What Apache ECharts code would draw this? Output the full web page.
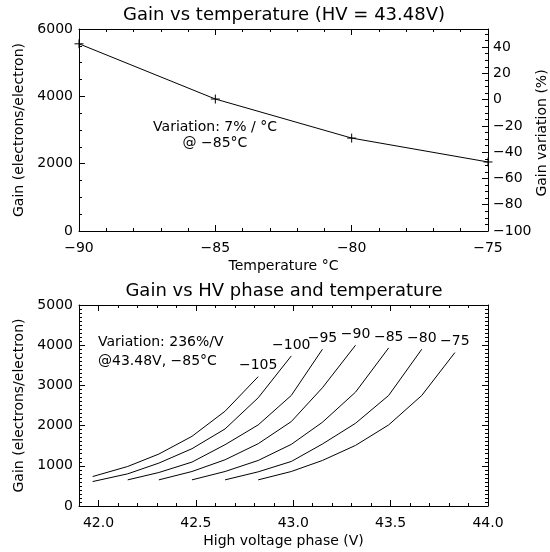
<!DOCTYPE html>
<html><head><meta charset="utf-8">
<script src="https://cdn.jsdelivr.net/npm/echarts@6/dist/echarts.min.js"></script>
<style>html,body{margin:0;padding:0;background:#fff}#c{width:550px;height:552px}</style>
</head><body><div id="c"></div>
<script>
// ---- Top panel data: gain vs temperature ----
var temps = [-90, -85, -80, -75];
var gainVsTemp = [5560, 3920, 2760, 2050];
var refGain = 3900; // gain at -85 C used for the % axis

// ---- Bottom panel data: gain vs HV for each temperature ----
var hvGrid = [41.97, 42.15, 42.31, 42.48, 42.65, 42.82, 42.99, 43.15, 43.32, 43.49, 43.66, 43.83];
var curveTemps = ['-105', '-100', '-95', '-90', '-85', '-80', '-75'];
var curveStart = [0, 0, 1, 2, 3, 4, 5];
var g105 = [733, 983, 1292, 1733, 2358, 3217];
var g100 = [608, 800, 1067, 1425, 1917, 2692, 3733];
var g95  = [650, 833, 1092, 1525, 2017, 2750, 3900];
var g90  = [650, 858, 1150, 1550, 2100, 2942, 4000];
var g85  = [650, 858, 1133, 1533, 2083, 2833, 3933];
var g80  = [650, 850, 1108, 1542, 2058, 2750, 3900];
var g75  = [650, 858, 1133, 1508, 2017, 2750, 3817];
var curveGains = [g105, g100, g95, g90, g85, g80, g75];

var hvMajor = [42.0, 42.5, 43.0, 43.5, 44.0];

var FONT = 'DejaVu Sans';
var txt = {color: '#000', fontFamily: FONT, fontSize: 14};
function minus(v) { return String(v).replace('-', '\u2212'); }

var lineStyle = {color: '#000', width: 1};
function baseAxis(extra) {
  var a = {
    axisLine: {show: true, onZero: false, lineStyle: lineStyle},
    axisTick: {show: true, inside: true, length: 6, lineStyle: lineStyle},
    minorTick: {show: false},
    splitLine: {show: false},
    axisLabel: Object.assign({show: true, formatter: minus}, txt),
    nameTextStyle: Object.assign({}, txt)
  };
  for (var k in extra) {
    if (typeof extra[k] === 'object' && a[k] && !Array.isArray(extra[k])) a[k] = Object.assign({}, a[k], extra[k]);
    else a[k] = extra[k];
  }
  return a;
}
var minorT = {show: true, length: 3, lineStyle: lineStyle};

var xAxes = [
  baseAxis({gridIndex: 0, type: 'value', position: 'bottom', min: -90, max: -75, interval: 5,
    minorTick: Object.assign({splitNumber: 5}, minorT),
    axisLabel: {margin: 10},
    name: 'Temperature \u00b0C', nameLocation: 'middle', nameGap: 28}),
  baseAxis({gridIndex: 0, type: 'value', position: 'top', min: -90, max: -75, interval: 5,
    minorTick: Object.assign({splitNumber: 5}, minorT), axisLabel: {show: false}}),
  baseAxis({gridIndex: 1, type: 'value', position: 'bottom', min: 41.9, max: 44.0,
    axisTick: {customValues: hvMajor},
    axisLabel: {margin: 10, customValues: hvMajor, formatter: function (v) { return v.toFixed(1); }},
    name: 'High voltage phase (V)', nameLocation: 'middle', nameGap: 28}),
  baseAxis({gridIndex: 1, type: 'value', position: 'bottom', min: 41.9, max: 44.0, interval: 0.1,
    axisLine: {show: false}, axisTick: {length: 3}, axisLabel: {show: false}}),
  baseAxis({gridIndex: 1, type: 'value', position: 'top', min: 41.9, max: 44.0,
    axisTick: {customValues: hvMajor}, axisLabel: {show: false}}),
  baseAxis({gridIndex: 1, type: 'value', position: 'top', min: 41.9, max: 44.0, interval: 0.1,
    axisLine: {show: false}, axisTick: {length: 3}, axisLabel: {show: false}})
];

var yAxes = [
  baseAxis({gridIndex: 0, type: 'value', position: 'left', min: 0, max: 6000, interval: 2000,
    minorTick: Object.assign({splitNumber: 4}, minorT),
    axisLabel: {margin: 6},
    name: 'Gain (electrons/electron)', nameLocation: 'middle', nameGap: 42, nameRotate: 90}),
  baseAxis({gridIndex: 0, type: 'value', position: 'right', min: -100, max: (6000 / refGain - 1) * 100, interval: 20,
    minorTick: Object.assign({splitNumber: 4}, minorT),
    axisLabel: {margin: 5, showMaxLabel: false}}),
  baseAxis({gridIndex: 1, type: 'value', position: 'left', min: 0, max: 5000, interval: 1000,
    minorTick: Object.assign({splitNumber: 10}, minorT),
    axisLabel: {margin: 6},
    name: 'Gain (electrons/electron)', nameLocation: 'middle', nameGap: 42, nameRotate: 90}),
  baseAxis({gridIndex: 1, type: 'value', position: 'right', min: 0, max: 5000, interval: 1000,
    minorTick: Object.assign({splitNumber: 10}, minorT), axisLabel: {show: false}})
];

var series = [{
  type: 'line', xAxisIndex: 0, yAxisIndex: 0,
  data: temps.map(function (t, i) { return [t, gainVsTemp[i]]; }),
  symbol: 'path://M0,-10L0,10M-10,0L10,0', symbolSize: 9,
  itemStyle: {color: 'transparent', borderColor: '#000', borderWidth: 1},
  lineStyle: lineStyle, clip: false, animation: false, silent: true
}];
curveGains.forEach(function (g, si) {
  var data = g.map(function (v, i) {
    var d = {value: [hvGrid[curveStart[si] + i], v]};
    if (i === g.length - 1) {
      d.label = {show: true, position: 'top', distance: 4, formatter: minus(curveTemps[si]),
        color: '#000', fontFamily: FONT, fontSize: 14};
    }
    return d;
  });
  series.push({type: 'line', xAxisIndex: 2, yAxisIndex: 2, data: data, showSymbol: true,
    symbol: 'circle', symbolSize: 0.01, itemStyle: {color: 'transparent', borderWidth: 0},
    lineStyle: lineStyle, animation: false, silent: true,
    label: {show: false}, labelLayout: {hideOverlap: false}});
});

function gtext(x, y, s, align, size, rot) {
  return {type: 'text', x: x, y: y, rotation: rot || 0,
    style: {text: s, fill: '#000', font: (size || 14) + 'px "' + FONT + '"',
    textAlign: align || 'center', textVerticalAlign: 'middle'}};
}

var chart = echarts.init(document.getElementById('c'), null, {renderer: 'canvas'});
chart.setOption({
  backgroundColor: '#fff',
  animation: false,
  grid: [
    {left: 79, top: 29, width: 409, height: 202, outerBoundsMode: 'none', containLabel: false},
    {left: 79, top: 305, width: 409, height: 201, outerBoundsMode: 'none', containLabel: false}
  ],
  xAxis: xAxes,
  yAxis: yAxes,
  series: series,
  graphic: [
    gtext(284, 15, 'Gain vs temperature (HV = 43.48V)', 'center', 18),
    gtext(284, 291, 'Gain vs HV phase and temperature', 'center', 18),
    gtext(215, 127, 'Variation: 7% / \u00b0C', 'center'),
    gtext(215, 143, '@ \u221285\u00b0C', 'center'),
    gtext(98, 342, 'Variation: 236%/V', 'left'),
    gtext(98, 361, '@43.48V, \u221285\u00b0C', 'left'),
    gtext(542, 133, 'Gain variation (%)', 'center', 14, Math.PI / 2)
  ]
});
</script></body></html>
